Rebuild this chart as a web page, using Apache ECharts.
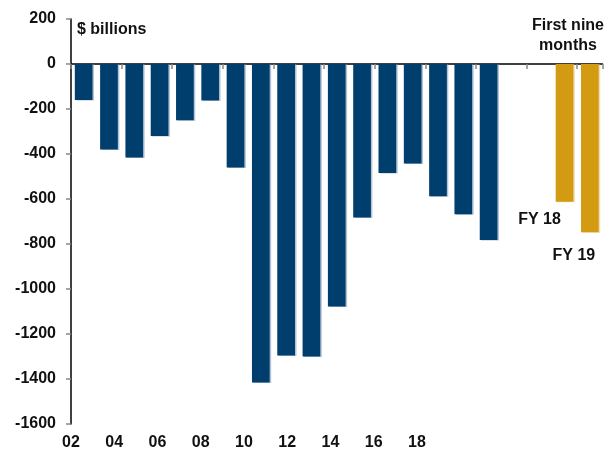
<!DOCTYPE html>
<html>
<head>
<meta charset="utf-8">
<script src="https://cdn.jsdelivr.net/npm/echarts@6/dist/echarts.min.js"></script>
<style>
  html, body { margin: 0; padding: 0; background: #fff; }
  #chart { width: 612px; height: 451px; }
</style>
</head>
<body>
<div id="chart"></div>
<script>
// Annual deficit, $ billions (fiscal years 2002-2018), plus first-nine-months totals
const categories = ['02','03','04','05','06','07','08','09','10','11','12','13','14','15','16','17','18','','','FY 18','FY 19'];
const annualDeficit = [-160, -380, -415, -320, -250, -162, -460, -1416, -1296, -1300, -1078, -682, -484, -442, -588, -668, -782, null, null, null, null];
const nineMonthDeficit = [null, null, null, null, null, null, null, null, null, null, null, null, null, null, null, null, null, null, null, -612, -748];
const yearTickLabels = ['02','04','06','08','10','12','14','16','18'];
const yTicks = { min: -1600, max: 200, step: 200 };

const FONT = 'Liberation Sans, Arial, sans-serif';
const BLUE = '#003E6D';
const GOLD = '#D39B12';
const textStyle = { fontFamily: FONT, fontWeight: 'bold', fontSize: 16, color: '#111' };

// per-point placement of the FY labels under the gold bars
const fyLabelOffsets = { 19: [-25, 5], 20: [-16, 10] };
const goldData = nineMonthDeficit.map((v, i) => {
  if (v === null) return null;
  return {
    value: v,
    label: { show: true, position: 'bottom', offset: fyLabelOffsets[i], formatter: '{b}', ...textStyle }
  };
});

const chart = echarts.init(document.getElementById('chart'));
chart.setOption({
  animation: false,
  grid: [
    { left: 71, top: 19, width: 531.5, height: 405 },
    { left: 71, top: 19, width: 346, height: 405 }
  ],
  xAxis: [
    {
      gridIndex: 0,
      type: 'category',
      data: categories,
      axisLine: { onZero: true, lineStyle: { color: '#000', width: 1.5 } },
      axisTick: { show: true, interval: 1, length: 5, lineStyle: { color: '#888', width: 1.5 } },
      axisLabel: { show: false }
    },
    {
      gridIndex: 1,
      type: 'category',
      data: yearTickLabels,
      boundaryGap: false,
      axisLine: { show: false },
      axisTick: { show: false },
      axisLabel: { margin: 14, ...textStyle }
    }
  ],
  yAxis: [
    {
      gridIndex: 0,
      type: 'value',
      min: yTicks.min,
      max: yTicks.max,
      interval: yTicks.step,
      splitLine: { show: false },
      axisLine: { show: true, lineStyle: { color: '#000', width: 1.5 } },
      axisTick: { show: true, length: 5, lineStyle: { color: '#888', width: 1.5 } },
      axisLabel: { margin: 15, formatter: (v) => String(v), ...textStyle }
    },
    { gridIndex: 1, type: 'value', show: false, min: yTicks.min, max: yTicks.max }
  ],
  series: [
    {
      type: 'bar',
      xAxisIndex: 0, yAxisIndex: 0,
      data: annualDeficit,
      barWidth: '70%',
      barGap: '-100%',
      itemStyle: { color: BLUE, shadowColor: 'rgba(160,180,200,0.8)', shadowOffsetX: 1.5, shadowOffsetY: 0.5, shadowBlur: 0 }
    },
    {
      type: 'bar',
      xAxisIndex: 0, yAxisIndex: 0,
      data: goldData,
      barWidth: '70%',
      barGap: '-100%',
      itemStyle: { color: GOLD, shadowColor: 'rgba(235,215,160,0.8)', shadowOffsetX: 1.5, shadowOffsetY: 0.5, shadowBlur: 0 }
    }
  ],
  graphic: [
    { type: 'text', left: 77, top: 22, style: { text: '$ billions', font: 'bold 16px ' + FONT, fill: '#111' } },
    { type: 'text', x: 568, y: 16, style: { text: 'First nine\nmonths', font: 'bold 16px ' + FONT, fill: '#111', align: 'center', lineHeight: 20 } }
  ]
});
</script>
</body>
</html>
